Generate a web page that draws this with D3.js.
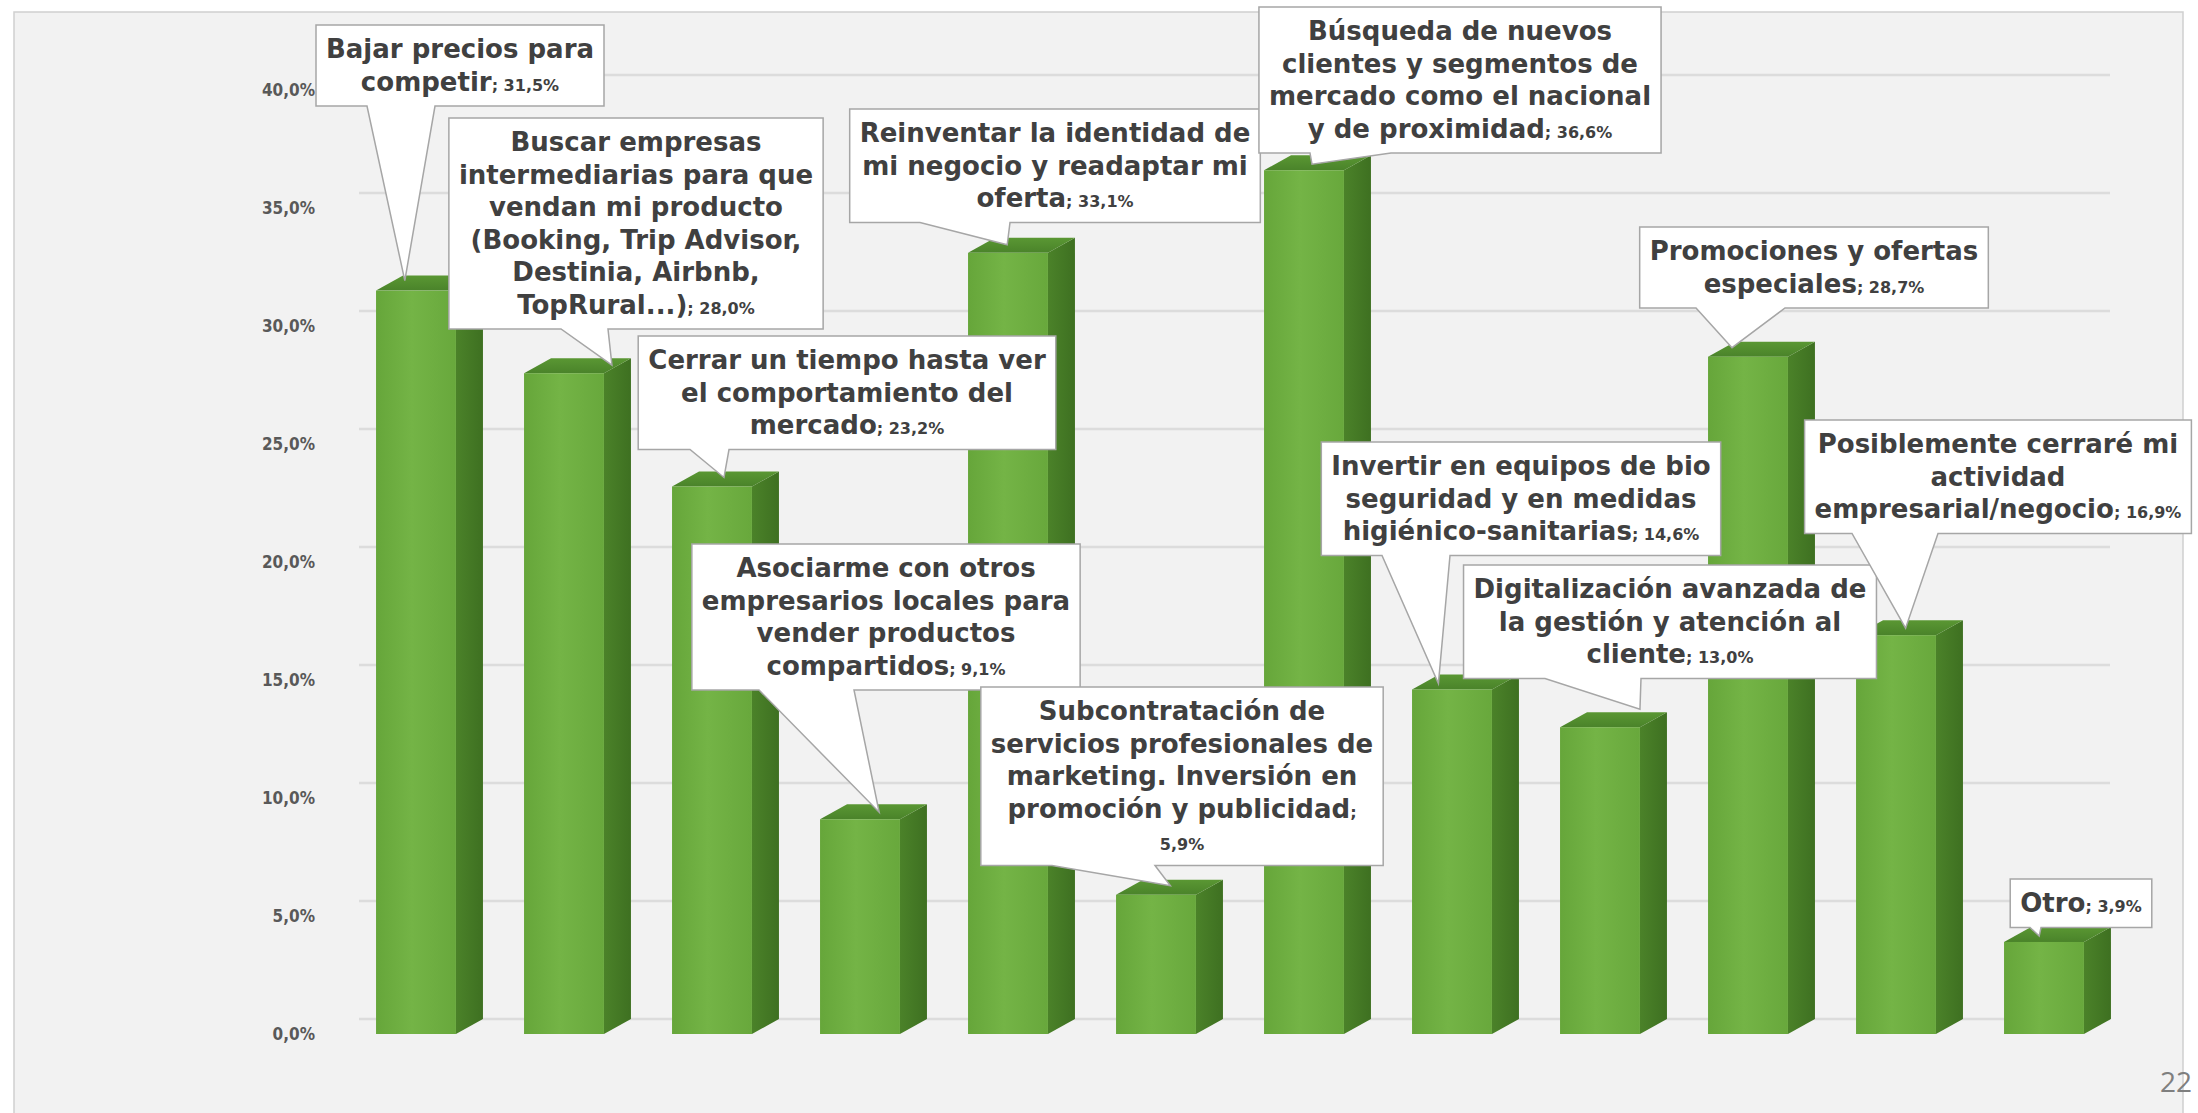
<!DOCTYPE html>
<html>
<head>
<meta charset="utf-8">
<script src="https://cdn.jsdelivr.net/npm/d3@7"></script>
<style>
  html, body { margin: 0; padding: 0; background: #fff; }
  svg { display: block; }
</style>
</head>
<body>
<div id="chart"></div>
<script>
const categories = [
  'Bajar precios para competir',
  'Buscar empresas intermediarias para que vendan mi producto (Booking, Trip Advisor, Destinia, Airbnb, TopRural...)',
  'Cerrar un tiempo hasta ver el comportamiento del mercado',
  'Asociarme con otros empresarios locales para vender productos compartidos',
  'Reinventar la identidad de mi negocio y readaptar mi oferta',
  'Subcontratación de servicios profesionales de marketing. Inversión en promoción y publicidad',
  'Búsqueda de nuevos clientes y segmentos de mercado como el nacional y de proximidad',
  'Invertir en equipos de bio seguridad y en medidas higiénico-sanitarias',
  'Digitalización avanzada de la gestión y atención al cliente',
  'Promociones y ofertas especiales',
  'Posiblemente cerraré mi actividad empresarial/negocio',
  'Otro',
];
const values = [31.5, 28.0, 23.2, 9.1, 33.1, 5.9, 36.6, 14.6, 13.0, 28.7, 16.9, 3.9];
const yTicks = [0, 5, 10, 15, 20, 25, 30, 35, 40];

// callout layout: box centre / top, words per line, pointer base on the box bottom,
// where the tip lands on the bar (fraction of bar width, offset above the bar top)
const callouts = [
  { cx: 460, top: 25, lines: [3, 1], base: [367, 435], tipF: 0.36, tipDy: -10 },
  { cx: 636, top: 118, lines: [2, 3, 3, 3, 2, 1], base: [561, 608], tipF: 1.1, tipDy: -8 },
  { cx: 847, top: 336, lines: [5, 3, 1], base: [690, 729], tipF: 0.65, tipDy: -9 },
  { cx: 886, top: 544, lines: [3, 3, 2, 1], base: [759, 854], tipF: 0.74, tipDy: -7 },
  { cx: 1055, top: 109, lines: [4, 5, 1], base: [920, 1010], tipF: 0.49, tipDy: -8 },
  { cx: 1182, top: 687, lines: [2, 3, 3, 3], valueLine: true, base: [1052, 1155], tipF: 0.68, tipDy: -9 },
  { cx: 1460, top: 7, lines: [3, 4, 4, 3], base: [1310, 1391], tipF: 0.6, tipDy: -6 },
  { cx: 1521, top: 442, lines: [5, 4, 1], base: [1382, 1450], tipF: 0.33, tipDy: -6 },
  { cx: 1670, top: 565, lines: [3, 5, 1], base: [1545, 1641], tipF: 1.0, tipDy: -18 },
  { cx: 1814, top: 227, lines: [3, 1], base: [1696, 1785], tipF: 0.3, tipDy: -9 },
  { cx: 1998, top: 420, lines: [3, 1, 1], base: [1852, 1938], tipF: 0.62, tipDy: -7 },
  { cx: 2081, top: 879, lines: [1], base: [2030, 2041], tipF: 0.44, tipDy: -6 },
];

const width = 2198,
  height = 1113,
  depth = { x: 27, y: -15 },
  lineH = 32.5,
  padY = 8,
  padX = 10;

const es = d3.formatLocale({ decimal: ',', thousands: '.', grouping: [3], currency: ['', ' €'] });
const fmt1 = es.format('.1f');
const pct = (v) => fmt1(v) + '%';

const svg = d3
  .select('#chart')
  .append('svg')
  .attr('width', width)
  .attr('height', height);

const defs = svg.append('defs');

const grad = (id, stops, x2 = '100%', y2 = '0%') => {
  const g = defs
    .append('linearGradient')
    .attr('id', id)
    .attr('x1', '0%')
    .attr('y1', '0%')
    .attr('x2', x2)
    .attr('y2', y2);
  stops.forEach(([o, c]) => g.append('stop').attr('offset', o).attr('stop-color', c));
};
grad('front', [[0, '#66a63a'], [0.45, '#74b446'], [1, '#68a83c']]);
grad('side', [[0, '#4b8229'], [1, '#3e7021']]);
grad('top', [[0, '#5a9733'], [1, '#4a832a']], '0%', '100%');

// slide background and frame
svg.append('rect').attr('width', width).attr('height', height).attr('fill', '#ffffff');
svg
  .append('rect')
  .attr('x', 14)
  .attr('y', 12)
  .attr('width', 2169)
  .attr('height', 1120)
  .attr('fill', '#f2f2f2')
  .attr('stroke', '#cfcfcf')
  .attr('stroke-width', 1.5);

const x = d3
  .scaleBand()
  .domain(d3.range(categories.length))
  .range([342, 2118])
  .paddingInner(0.46)
  .paddingOuter(0.23);

const y = d3.scaleLinear().domain([0, 40]).range([1034, 90]);

/* ------- GRIDLINES (back wall) ------- */
svg
  .append('g')
  .selectAll('line')
  .data(yTicks)
  .join('line')
  .attr('x1', x.range()[0] + depth.x - 10)
  .attr('x2', x.range()[1] - 8)
  .attr('y1', (d) => y(d) + depth.y)
  .attr('y2', (d) => y(d) + depth.y)
  .attr('stroke', '#dcdcdc')
  .attr('stroke-width', 2.5);

/* ------- Y AXIS ------- */
const yAxis = d3
  .axisLeft(y)
  .tickValues(yTicks)
  .tickSize(0)
  .tickPadding(0)
  .tickFormat(pct);

const gy = svg.append('g').attr('transform', 'translate(315,0)').call(yAxis);
gy.select('.domain').remove();
gy.selectAll('text')
  .attr('fill', '#595959')
  .attr('font-family', 'DejaVu Sans Condensed, DejaVu Sans')
  .attr('font-weight', 'bold')
  .attr('font-size', 17);

/* ------- 3D BARS ------- */
const bw = x.bandwidth();
const bars = svg
  .append('g')
  .selectAll('g')
  .data(values)
  .join('g');

bars
  .append('path')
  .attr('fill', 'url(#side)')
  .attr('d', (d, i) => {
    const x1 = x(i) + bw;
    return `M${x1},${y(d)}L${x1 + depth.x},${y(d) + depth.y}L${x1 + depth.x},${y(0) + depth.y}L${x1},${y(0)}Z`;
  });

bars
  .append('path')
  .attr('fill', 'url(#top)')
  .attr('d', (d, i) => {
    const x0 = x(i);
    return `M${x0},${y(d)}L${x0 + depth.x},${y(d) + depth.y}L${x0 + bw + depth.x},${y(d) + depth.y}L${x0 + bw},${y(d)}Z`;
  });

bars
  .append('rect')
  .attr('x', (d, i) => x(i))
  .attr('y', (d) => y(d))
  .attr('width', bw)
  .attr('height', (d) => y(0) - y(d))
  .attr('fill', 'url(#front)');

/* ------- CALLOUT LABELS ------- */
const labels = svg.append('g');

callouts.forEach((c, i) => {
  const words = categories[i].split(' ');
  const rows = [];
  let k = 0;
  c.lines.forEach((n, r) => {
    const seg = [{ t: words.slice(k, k + n).join(' '), big: true }];
    k += n;
    if (r === c.lines.length - 1) {
      if (c.valueLine) {
        seg.push({ t: ';', big: false });
      } else {
        seg.push({ t: '; ' + pct(values[i]), big: false });
      }
    }
    rows.push(seg);
  });
  if (c.valueLine) rows.push([{ t: pct(values[i]), big: false }]);

  const g = labels.append('g');
  const shape = g.append('path');
  const text = g
    .append('text')
    .attr('text-anchor', 'middle')
    .attr('fill', '#404040')
    .attr('font-family', 'DejaVu Sans')
    .attr('font-weight', 'bold');

  rows.forEach((seg, r) => {
    const line = text
      .append('tspan')
      .attr('x', c.cx)
      .attr('y', c.top + padY + (r + 0.5) * lineH + 9);
    seg.forEach((s) => {
      line
        .append('tspan')
        .attr('font-size', s.big ? 26 : 16)
        .text(s.t);
    });
  });

  const bb = text.node().getBBox();
  const w = bb.width + padX * 2;
  const h = rows.length * lineH + padY * 2;
  const x0 = c.cx - w / 2,
    x1 = c.cx + w / 2,
    y0 = c.top,
    y1 = c.top + h;
  const b1 = Math.max(x0 + 2, c.base[0]),
    b2 = Math.min(x1 - 2, c.base[1]);
  const tx = x(i) + c.tipF * bw,
    ty = y(values[i]) + c.tipDy;

  shape
    .attr('d', `M${x0},${y0}H${x1}V${y1}H${b2}L${tx},${ty}L${b1},${y1}H${x0}Z`)
    .attr('fill', '#ffffff')
    .attr('stroke', '#a6a6a6')
    .attr('stroke-width', 1.5);
});

/* ------- PAGE NUMBER ------- */
svg
  .append('text')
  .attr('x', 2192)
  .attr('y', 1092)
  .attr('text-anchor', 'end')
  .attr('font-family', 'Open Sans')
  .attr('font-size', 28)
  .attr('fill', '#7f7f7f')
  .text('22');
</script>
</body>
</html>
